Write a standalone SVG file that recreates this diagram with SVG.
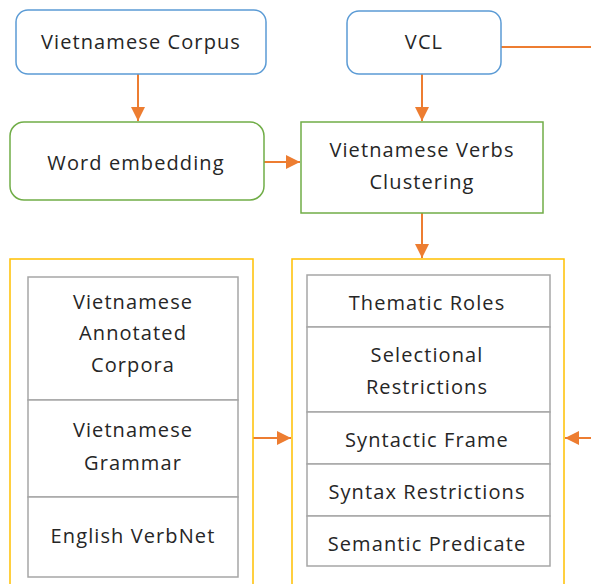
<svg xmlns="http://www.w3.org/2000/svg" width="591" height="584" viewBox="0 0 591 584">
  <defs>
    <marker id="arrow" viewBox="0 0 10 10" refX="10" refY="5" markerWidth="14" markerHeight="14" markerUnits="userSpaceOnUse" orient="auto">
      <path d="M0,0 L10,5 L0,10 z" fill="#ED7D31"/>
    </marker>
    <style>
      .lbl { font-family: "Open Sans", "Noto Sans", sans-serif; font-size: 20px; letter-spacing: 1.1px; fill: #262626; text-anchor: middle; }
      .blue { fill: #fff; stroke: #5B9BD5; stroke-width: 1.5; }
      .green { fill: #fff; stroke: #70AD47; stroke-width: 1.5; }
      .panel { fill: #fff; stroke: #FFC000; stroke-width: 1.5; }
      .cell { fill: #fff; stroke: #A6A6A6; stroke-width: 1.5; }
      .conn { fill: none; stroke: #ED7D31; stroke-width: 2; }
    </style>
  </defs>
  <rect width="591" height="584" fill="#fff"/>

  <g id="connectors">
    <line class="conn" x1="138" y1="74" x2="138" y2="121" marker-end="url(#arrow)"/>
    <line class="conn" x1="422" y1="74" x2="422" y2="121" marker-end="url(#arrow)"/>
    <line class="conn" x1="264" y1="162" x2="300" y2="162" marker-end="url(#arrow)"/>
    <line class="conn" x1="422" y1="213" x2="422" y2="258" marker-end="url(#arrow)"/>
    <line class="conn" x1="501" y1="47" x2="591" y2="47"/>
    <line class="conn" x1="253" y1="438" x2="291" y2="438" marker-end="url(#arrow)"/>
    <line class="conn" x1="591" y1="438" x2="565" y2="438" marker-end="url(#arrow)"/>
  </g>

  <g id="vietnamese-corpus">
    <rect class="blue" x="16" y="10" width="250" height="64" rx="12"/>
    <text class="lbl" x="141" y="49">Vietnamese Corpus</text>
  </g>

  <g id="vcl">
    <rect class="blue" x="347" y="11" width="154" height="63" rx="12"/>
    <text class="lbl" x="424" y="49">VCL</text>
  </g>

  <g id="word-embedding">
    <rect class="green" x="10" y="122" width="254" height="78" rx="14"/>
    <text class="lbl" x="136" y="170">Word embedding</text>
  </g>

  <g id="verbs-clustering">
    <rect class="green" x="301" y="122" width="242" height="91"/>
    <text class="lbl" x="422" y="157">Vietnamese Verbs</text>
    <text class="lbl" x="422" y="189">Clustering</text>
  </g>

  <g id="resources">
    <rect class="panel" x="10" y="259" width="243" height="340"/>
    <rect class="cell" x="28" y="277" width="210" height="123"/>
    <rect class="cell" x="28" y="400" width="210" height="97"/>
    <rect class="cell" x="28" y="497" width="210" height="80"/>
    <text class="lbl" x="133" y="309">Vietnamese</text>
    <text class="lbl" x="133" y="340">Annotated</text>
    <text class="lbl" x="133" y="372">Corpora</text>
    <text class="lbl" x="133" y="437">Vietnamese</text>
    <text class="lbl" x="133" y="470">Grammar</text>
    <text class="lbl" x="133" y="543">English VerbNet</text>
  </g>

  <g id="verbnet-structure">
    <rect class="panel" x="292" y="259" width="272" height="340"/>
    <rect class="cell" x="307" y="275" width="243" height="52"/>
    <rect class="cell" x="307" y="327" width="243" height="85"/>
    <rect class="cell" x="307" y="412" width="243" height="52"/>
    <rect class="cell" x="307" y="464" width="243" height="52"/>
    <rect class="cell" x="307" y="516" width="243" height="50"/>
    <text class="lbl" x="427" y="310">Thematic Roles</text>
    <text class="lbl" x="427" y="362">Selectional</text>
    <text class="lbl" x="427" y="394">Restrictions</text>
    <text class="lbl" x="427" y="447">Syntactic Frame</text>
    <text class="lbl" x="427" y="499">Syntax Restrictions</text>
    <text class="lbl" x="427" y="551">Semantic Predicate</text>
  </g>
</svg>
